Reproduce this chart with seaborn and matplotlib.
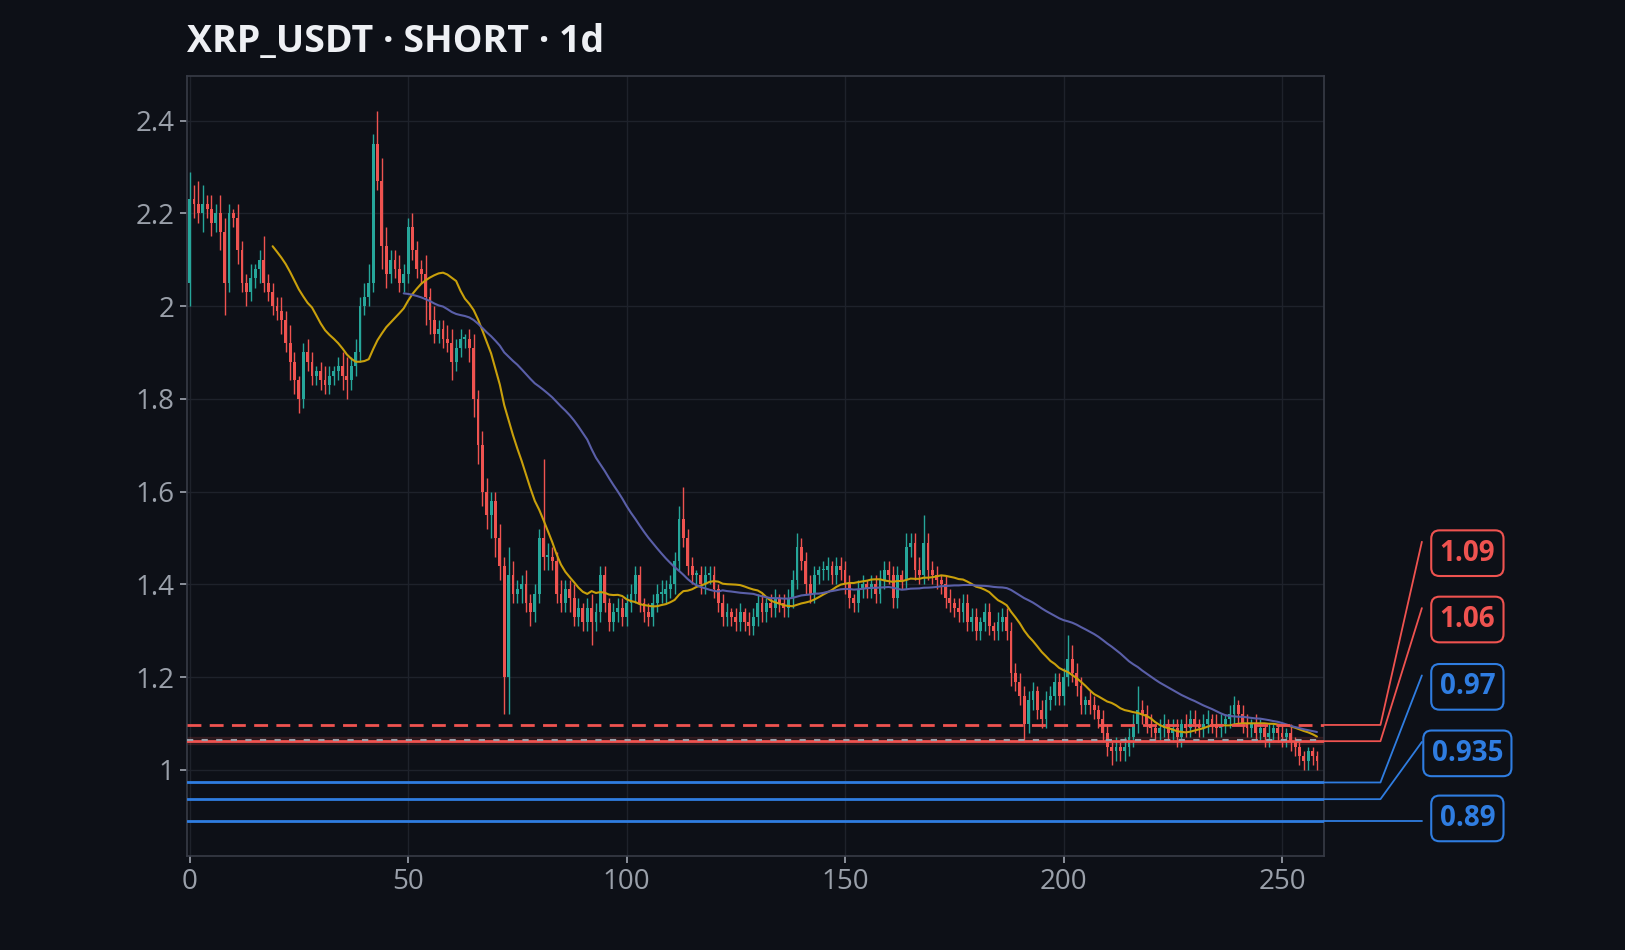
import numpy as np
import pandas as pd
import matplotlib
matplotlib.use("Agg")
import matplotlib.pyplot as plt
import seaborn as sns
from matplotlib.lines import Line2D

closes = [2.23,2.22,2.20,2.22,2.21,2.18,2.20,2.16,2.05,2.20,2.19,2.12,2.05,2.03,2.06,2.08,2.10,2.05,2.03,2.00,
1.99,1.97,1.92,1.88,1.84,1.80,1.90,1.88,1.85,1.86,1.84,1.83,1.85,1.86,1.87,1.85,1.84,1.87,1.90,2.00,
2.02,2.05,2.35,2.27,2.13,2.07,2.10,2.08,2.05,2.07,2.17,2.12,2.08,2.07,2.02,1.97,1.94,1.95,1.93,1.92,
1.88,1.91,1.93,1.93,1.91,1.80,1.70,1.60,1.55,1.58,1.50,1.44,1.20,1.42,1.38,1.39,1.40,1.36,1.34,1.38,
1.50,1.46,1.46,1.45,1.38,1.36,1.39,1.37,1.33,1.35,1.32,1.35,1.32,1.34,1.42,1.36,1.32,1.34,1.35,1.33,
1.36,1.38,1.42,1.36,1.34,1.33,1.36,1.38,1.38,1.39,1.40,1.45,1.54,1.50,1.44,1.42,1.42,1.40,1.42,1.42,
1.39,1.36,1.33,1.34,1.33,1.32,1.34,1.32,1.31,1.33,1.36,1.34,1.36,1.35,1.37,1.36,1.35,1.37,1.41,1.48,
1.45,1.40,1.38,1.42,1.43,1.43,1.44,1.42,1.44,1.43,1.40,1.37,1.36,1.39,1.40,1.39,1.40,1.38,1.41,1.43,
1.42,1.37,1.42,1.41,1.48,1.49,1.43,1.42,1.49,1.43,1.42,1.41,1.40,1.37,1.36,1.35,1.34,1.36,1.32,1.33,
1.30,1.32,1.34,1.31,1.30,1.32,1.33,1.30,1.21,1.19,1.16,1.10,1.15,1.17,1.13,1.11,1.15,1.16,1.19,1.16,
1.20,1.24,1.21,1.18,1.14,1.15,1.14,1.13,1.11,1.08,1.05,1.04,1.05,1.04,1.05,1.07,1.10,1.13,1.12,1.10,
1.09,1.08,1.09,1.10,1.08,1.09,1.07,1.10,1.09,1.11,
1.10,1.09,1.10,1.11,1.10,1.09,1.10,1.11,1.12,1.14,1.12,1.10,1.09,1.10,1.08,1.09,1.07,1.08,1.09,1.08,
1.07,1.08,1.06,1.05,1.03,1.02,1.04,1.03,1.02]
first_open = 2.05
wick_up = [0.06,0.03,0.05,0.04,0.02,0.03,0.02,0.04,0.03,0.02,0.01,0.03,0.02,0.02,0.03,0.01,0.02,0.05,0.02,0.02,
0.02,0.03,0.02,0.04,0.02,0.01,0.02,0.03,0.02,0.01,0.02,0.03,0.02,0.01,0.02,0.03,0.04,0.02,0.03,0.02,
0.03,0.04,0.02,0.07,0.05,0.04,0.02,0.02,0.03,0.02,0.02,0.03,0.02,0.02,0.04,0.02,0.03,0.02,0.02,0.03,
0.03,0.02,0.02,0.01,0.02,0.03,0.02,0.03,0.03,0.02,0.02,0.03,0.02,0.06,0.03,0.02,0.02,0.03,0.02,0.02,
0.02,0.17,0.03,0.02,0.02,0.03,0.02,0.02,0.03,0.02,0.01,0.02,0.03,0.02,0.02,0.02,0.01,0.02,0.02,0.02,
0.02,0.02,0.02,0.02,0.01,0.02,0.02,0.02,0.03,0.02,0.02,0.02,0.03,0.07,0.02,0.02,0.01,0.02,0.02,0.02,
0.02,0.01,0.02,0.02,0.01,0.02,0.02,0.01,0.02,0.02,0.02,0.02,0.01,0.02,0.02,0.01,0.02,0.02,0.02,0.03,
0.02,0.02,0.02,0.02,0.01,0.02,0.02,0.01,0.02,0.02,0.02,0.02,0.01,0.02,0.02,0.01,0.02,0.02,0.02,0.02,
0.02,0.02,0.02,0.01,0.03,0.02,0.02,0.03,0.06,0.02,0.02,0.02,0.01,0.02,0.02,0.01,0.02,0.02,0.02,0.02,
0.02,0.01,0.02,0.02,0.01,0.02,0.02,0.02,0.02,0.02,0.02,0.02,0.02,0.02,0.01,0.02,0.02,0.02,0.02,0.02,
0.02,0.05,0.03,0.02,0.02,0.01,0.02,0.02,0.01,0.02,0.02,0.01,0.02,0.01,0.02,0.02,0.02,0.05,0.02,0.02,
0.02,0.01,0.02,0.02,0.01,0.02,0.02,0.01,0.02,0.02,
0.02,0.01,0.02,0.02,0.01,0.02,0.02,0.01,0.02,0.02,0.01,0.02,0.02,0.01,0.02,0.02,0.01,0.02,0.01,0.01,
0.02,0.01,0.02,0.01,0.01,0.01,0.01,0.01,0.01]
wick_dn = [0.05,0.03,0.02,0.04,0.02,0.03,0.02,0.04,0.07,0.02,0.02,0.03,0.02,0.03,0.02,0.02,0.03,0.02,0.02,0.02,
0.02,0.03,0.02,0.04,0.03,0.03,0.02,0.02,0.02,0.02,0.02,0.02,0.02,0.02,0.02,0.03,0.04,0.02,0.02,0.02,
0.02,0.02,0.02,0.02,0.05,0.03,0.02,0.02,0.02,0.02,0.02,0.02,0.02,0.02,0.06,0.03,0.02,0.02,0.02,0.02,
0.04,0.02,0.02,0.02,0.03,0.04,0.04,0.03,0.03,0.05,0.04,0.03,0.08,0.08,0.02,0.02,0.03,0.02,0.03,0.02,
0.02,0.03,0.03,0.02,0.02,0.02,0.02,0.03,0.02,0.02,0.02,0.02,0.05,0.02,0.02,0.02,0.02,0.02,0.02,0.02,
0.02,0.02,0.02,0.02,0.02,0.02,0.02,0.02,0.02,0.02,0.02,0.02,0.02,0.02,0.02,0.02,0.02,0.02,0.02,0.02,
0.02,0.02,0.02,0.02,0.02,0.02,0.02,0.02,0.02,0.02,0.02,0.02,0.02,0.02,0.02,0.02,0.02,0.02,0.02,0.02,
0.02,0.02,0.02,0.02,0.02,0.02,0.02,0.02,0.02,0.02,0.02,0.02,0.02,0.02,0.02,0.02,0.02,0.02,0.02,0.02,
0.02,0.02,0.02,0.02,0.02,0.02,0.02,0.02,0.02,0.02,0.02,0.02,0.02,0.02,0.02,0.02,0.02,0.02,0.02,0.02,
0.02,0.02,0.02,0.02,0.02,0.02,0.02,0.02,0.03,0.02,0.02,0.04,0.02,0.02,0.02,0.02,0.02,0.02,0.02,0.02,
0.02,0.02,0.02,0.02,0.02,0.02,0.02,0.02,0.02,0.02,0.02,0.03,0.02,0.02,0.02,0.02,0.02,0.02,0.02,0.02,
0.02,0.02,0.02,0.02,0.02,0.02,0.02,0.02,0.02,0.02,
0.02,0.02,0.02,0.02,0.02,0.02,0.02,0.02,0.02,0.02,0.02,0.02,0.02,0.02,0.02,0.02,0.02,0.02,0.02,0.02,
0.02,0.02,0.02,0.02,0.02,0.02,0.02,0.02,0.02]

level_values = [1.097, 1.062, 0.973, 0.937, 0.89]
level_labels = ["1.09", "1.06", "0.97", "0.935", "0.89"]
level_kinds = ["red_dash", "red", "blue", "blue", "blue"]
label_y = [0.4177, 0.3479, 0.277, 0.207, 0.1385]
title = "XRP_USDT · SHORT · 1d"

BG = "#0d1017"; GREEN = "#26a69a"; RED = "#ef5350"; BLUE = "#2f7de1"
sns.set_theme(style="dark")
plt.rcParams['font.family'] = ['Open Sans', 'DejaVu Sans']

n = len(closes)
idx = np.arange(n)
c = np.array(closes)
o = np.concatenate([[first_open], c[:-1]])
hi = np.maximum(o, c) + np.array(wick_up)
lo = np.minimum(o, c) - np.array(wick_dn)
df = pd.DataFrame({"i": idx, "close": c})
df["ma20"] = df["close"].rolling(20).mean()
df["ma50"] = df["close"].rolling(50).mean()

fig = plt.figure(figsize=(16.25, 9.5), dpi=100, facecolor=BG)
ax = fig.add_axes([0.1148, 0.0992, 0.8150 - 0.1148, 0.920 - 0.0992])
ax.set_facecolor(BG)
ax.set_xlim(-0.7, 259.7)
ax.set_ylim(0.815, 2.496)
ax.set_yticks([1.0, 1.2, 1.4, 1.6, 1.8, 2.0, 2.2, 2.4])
ax.set_yticklabels(["1", "1.2", "1.4", "1.6", "1.8", "2", "2.2", "2.4"])
ax.set_xticks([0, 50, 100, 150, 200, 250])
ax.grid(True, color="#1e222b", lw=1)
for s in ax.spines.values():
    s.set_color("#363a45"); s.set_visible(True)
ax.tick_params(colors="#9aa0aa", labelsize=20, length=5, color="#9aa0aa", left=True, bottom=True)

cols = [GREEN if cc >= oo else RED for oo, cc in zip(o, c)]
ax.vlines(idx, lo, hi, colors=cols, lw=1, zorder=3)
ax.bar(idx, np.maximum(np.abs(c - o), 0.004), bottom=np.minimum(o, c), width=0.65,
       color=cols, zorder=4, linewidth=0)
sns.lineplot(data=df, x="i", y="ma20", ax=ax, color="#c9a00b", lw=1.5, zorder=5)
sns.lineplot(data=df, x="i", y="ma50", ax=ax, color="#5a5fa8", lw=1.5, zorder=5)
ax.set_xlabel(""); ax.set_ylabel("")

ax.axhspan(1.055, 1.07, color=RED, alpha=0.12, zorder=1)
for v, k in zip(level_values, level_kinds):
    if k == "red_dash":
        ax.axhline(v, color=RED, lw=2, ls=(0, (5, 3)), zorder=6)
    elif k == "red":
        ax.axhline(v, color=RED, lw=2, zorder=6)
        ax.axhline(v + 0.003, color="#9aa0aa", lw=1.5, ls=(0, (3, 4)), zorder=6)
    else:
        ax.axhline(v, color=BLUE, lw=2, zorder=6)

to_fig = lambda v: fig.transFigure.inverted().transform(ax.transData.transform((0, v)))[1]
for v, lab, k, ly in zip(level_values, level_labels, level_kinds, label_y):
    col = RED if k.startswith("red") else BLUE
    yf = to_fig(v)
    if lab == "0.89":
        xs, ys = [0.815, 0.875], [yf, yf]
    else:
        xs, ys = [0.815, 0.8495, 0.875], [yf, yf, ly + 0.012]
    fig.add_artist(Line2D(xs, ys, transform=fig.transFigure, color=col, lw=1.3))
    fig.text(0.903, ly, lab, color=col, fontsize=20, fontweight="bold", ha="center", va="center",
             bbox=dict(boxstyle="round,pad=0.3", fc=BG, ec=col, lw=1.5))

fig.text(0.1148, 0.956, title, color="#eef0f4", fontsize=27, fontweight="bold", ha="left", va="center")
fig.savefig("out.png", dpi=100, facecolor=BG)
